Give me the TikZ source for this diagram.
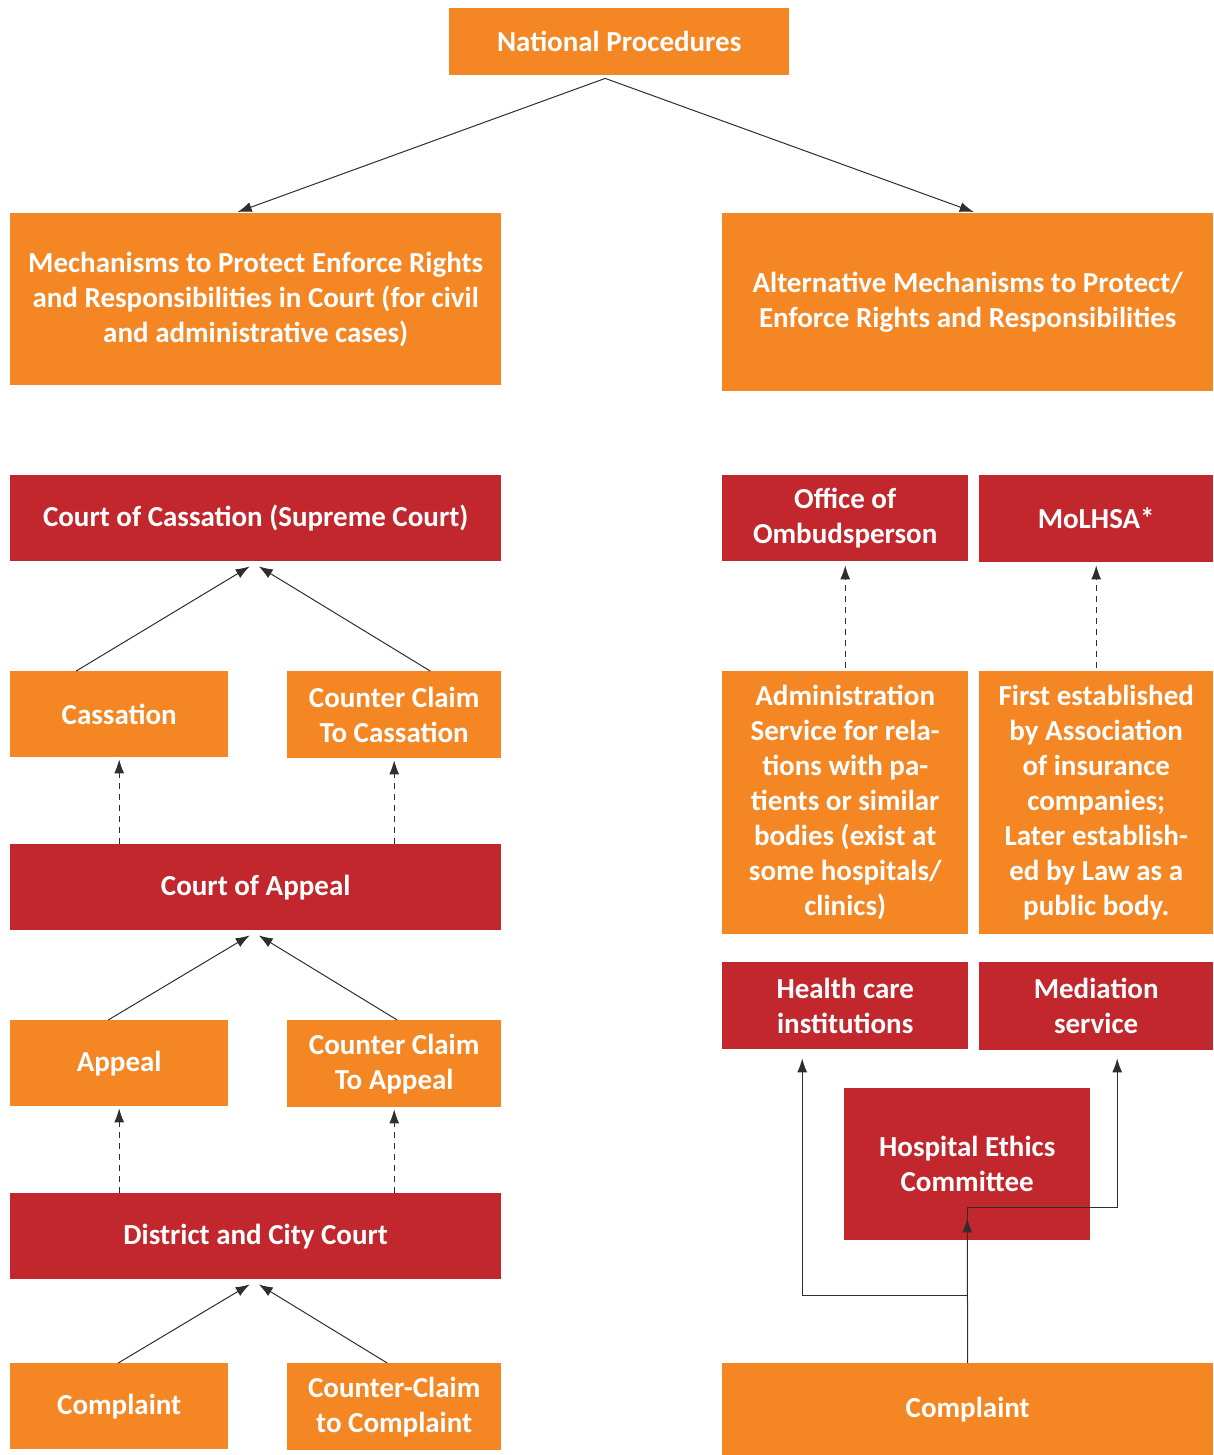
\documentclass[tikz,border=0pt]{standalone}
\usepackage{fontspec}
\setmainfont{Carlito}
\usepackage{tikz}
\usetikzlibrary{arrows.meta, positioning, calc}
\definecolor{orangebox}{HTML}{F48623}
\definecolor{redbox}{HTML}{C1272D}
\definecolor{linegray}{HTML}{2E2E2E}
\tikzset{
    box/.style={draw=none, text=white, font=\fontsize{29}{35}\selectfont\bfseries,
                align=center, inner sep=0pt, anchor=north west},
    orbox/.style={box, fill=orangebox},
    rdbox/.style={box, fill=redbox}
}

\begin{document}
\begin{tikzpicture}[
    x=1pt, y=-1pt,
    line/.style={draw=linegray, line width=1pt},
    arrow/.style={line, -{Latex[length=14pt,width=10pt]}},
    dasharrow/.style={arrow, dash pattern=on 6pt off 5pt}
]
\useasboundingbox (0,0) rectangle (1213,1455);

% Top level
\node[orbox, minimum width=340pt, minimum height=67pt] (natl) at (449,8) {National Procedures};
\node[orbox, minimum width=491pt, minimum height=172pt] (court) at (10,213)
    {Mechanisms to Protect Enforce Rights\\and Responsibilities in Court (for civil\\and administrative cases)};
\node[orbox, minimum width=491pt, minimum height=178pt] (alt) at (722,213)
    {Alternative Mechanisms to Protect/\\Enforce Rights and Responsibilities};

\draw[arrow] ([xshift=-14pt,yshift=-3pt]natl.south) -- ([xshift=-18pt,yshift=1pt]court.north);
\draw[arrow] ([xshift=-14pt,yshift=-3pt]natl.south) -- ([xshift=6pt,yshift=1pt]alt.north);

% Court instances (left column)
\foreach \name/\y/\txt in {supreme/475/Court of Cassation (Supreme Court),
                           appealcourt/844/Court of Appeal,
                           district/1193/District and City Court} {
    \node[rdbox, minimum width=491pt, minimum height=86pt] (\name) at (10,\y) {\txt};
}

% Claims below each court
\foreach \lname/\rname/\y/\ltxt/\rtxt in {cassation/ccass/671/Cassation/{Counter Claim\\To Cassation},
                                          appeal/ccappeal/1020/Appeal/{Counter Claim\\To Appeal},
                                          complaint/cccompl/1363/Complaint/{Counter-Claim\\to Complaint}} {
    \node[orbox, minimum width=218pt, minimum height=86pt] (\lname) at (10,\y) {\ltxt};
    \node[orbox, minimum width=214pt, minimum height=87pt] (\rname) at (287,\y) {\rtxt};
}

% Claims lead to the court above
\foreach \l/\r/\up/\lx/\rx in {cassation/ccass/supreme/-43pt/36pt,
                               appeal/ccappeal/appealcourt/-11pt/3pt,
                               complaint/cccompl/district/-1pt/-7pt} {
    \draw[arrow] ([xshift=\lx]\l.north) -- ([xshift=-6pt,yshift=-5pt]\up.south);
    \draw[arrow] ([xshift=\rx]\r.north) -- ([xshift=3pt,yshift=-5pt]\up.south);
}

% Courts lead to the claims above
\foreach \l/\r/\low in {cassation/ccass/appealcourt, appeal/ccappeal/district} {
    \draw[dasharrow] (\l.south |- \low.north) -- ([yshift=-2pt]\l.south);
    \draw[dasharrow] (\r.south |- \low.north) -- ([yshift=-2pt]\r.south);
}

% Alternative mechanisms (right column)
\node[rdbox, minimum width=246pt, minimum height=86pt] (ombud) at (722,475) {Office of\\Ombudsperson};
\node[rdbox, minimum width=234pt, minimum height=87pt] (molhsa) at (979,475) {MoLHSA*};
\node[orbox, minimum width=246pt, minimum height=263pt] (admin) at (722,671)
    {Administration\\Service for rela-\\tions with pa-\\tients or similar\\bodies (exist at\\some hospitals/\\clinics)};
\node[orbox, minimum width=234pt, minimum height=263pt] (insur) at (979,671)
    {First established\\by Association\\of insurance\\companies;\\Later establish-\\ed by Law as a\\public body.};
\node[rdbox, minimum width=246pt, minimum height=87pt] (hci) at (722,962) {Health care\\institutions};
\node[rdbox, minimum width=234pt, minimum height=88pt] (medi) at (979,962) {Mediation\\service};
\node[rdbox, minimum width=246pt, minimum height=152pt] (hec) at (844,1088) {Hospital Ethics\\Committee};
\node[orbox, minimum width=491pt, minimum height=92pt] (altcompl) at (722,1363) {Complaint};

\draw[dasharrow] ([yshift=3pt]admin.north) -- ([yshift=-4pt]ombud.south);
\draw[dasharrow] ([yshift=3pt]insur.north) -- ([yshift=-3pt]molhsa.south);

% Complaint routes
\coordinate (hecturn) at ([yshift=33pt]hec.south);
\coordinate (branch) at ([yshift=68pt]altcompl.north);
\draw[arrow] (altcompl.north) -- ([yshift=22pt]hec.south);
\draw[arrow] (altcompl.north) -- (altcompl.north |- hecturn) -| ([xshift=21pt,yshift=-8pt]medi.south);
\draw[arrow] (branch) -| ([xshift=-43pt,yshift=-9pt]hci.south);

\end{tikzpicture}
\end{document}
